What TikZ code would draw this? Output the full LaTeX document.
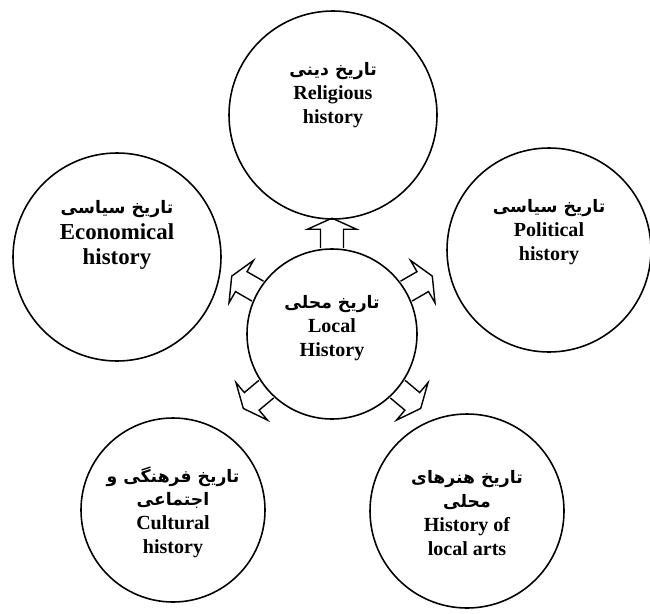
\documentclass[tikz,border=0pt]{standalone}
\usepackage{fontspec}
\setmainfont{Liberation Serif}
\newfontfamily\farsi[Script=Arabic]{DejaVu Sans}
\TeXXeTstate=1
\usepackage{tikz}
\usetikzlibrary{calc}

\tikzset{
  topic/.style={circle,draw,line width=0.9pt,inner sep=0pt,fill=white},
  topic text/.style={align=center,font=\fontsize{11.4}{13.5}\selectfont\bfseries},
  hollow arrow/.style={line width=0.8pt,line join=miter}
}
\newcommand{\fa}[1]{{\farsi\bfseries\fontsize{9.8}{13.5}\selectfont\beginR #1\endR}}

\begin{document}
\begin{tikzpicture}
    \useasboundingbox (0,0) rectangle (13,12.26);

    % circles
    \node[topic,minimum size=3.4cm]  (local) at (6.64,5.58) {};
    \node[topic,minimum size=4.16cm] (relig) at (6.66,9.96) {};
    \node[topic,minimum size=4.16cm] (econ)  at (2.34,7.12) {};
    \node[topic,minimum size=4.08cm] (polit) at (10.98,7.26) {};
    \node[topic,minimum size=3.68cm] (cult)  at (3.46,2.06) {};
    \node[topic,minimum size=3.88cm] (arts)  at (9.34,2.04) {};

    \node[topic text] (localtxt) at ([yshift=0.12cm]local.center) {\fa{تاریخ محلی}\\Local\\History};
    \node[topic text] (religtxt) at ([yshift=0.40cm]relig.center) {\fa{تاریخ دینی}\\Religious\\history};
    \node[topic text,font=\fontsize{13}{14.5}\selectfont\bfseries] (econtxt)
        at ([yshift=0.44cm]econ.center) {\fa{تاریخ سیاسی}\\Economical\\history};
    \node[topic text] (polittxt) at ([yshift=0.36cm]polit.center) {\fa{تاریخ سیاسی}\\Political\\history};
    \node[topic text] (culttxt)  at ([yshift=-0.04cm]cult.center) {\fa{تاریخ فرهنگی و}\\\fa{اجتماعی}\\Cultural\\history};
    \node[topic text] (artstxt)  at ([yshift=-0.04cm]arts.center) {\fa{تاریخ هنرهای}\\\fa{محلی}\\History of\\local arts};

    % arrows out of the centre
    \foreach \ang in {90,30,150,220,320}
        \draw[hollow arrow,shift={(local.\ang)},rotate=\ang]
            (0,-0.23) -- (0.38,-0.23) -- (0.38,-0.49) -- (0.6,0)
            -- (0.38,0.49) -- (0.38,0.23) -- (0,0.23);

\end{tikzpicture}
\end{document}
